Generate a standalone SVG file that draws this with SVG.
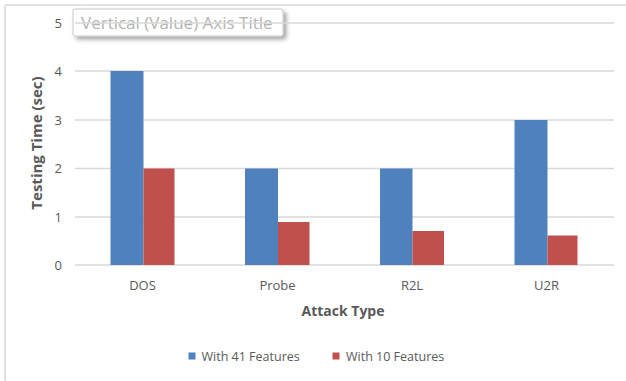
<svg xmlns="http://www.w3.org/2000/svg" width="626" height="381" viewBox="0 0 626 381">
<defs>
<style>
.grid{stroke:#d9d9d9;stroke-width:1.5}
.tick{font-family:"Open Sans","Noto Sans",sans-serif;font-size:13px;fill:#595959}
.cat{font-family:"Open Sans","Noto Sans",sans-serif;font-size:13px;fill:#595959;text-anchor:middle}
.ttl{font-family:"Open Sans","Noto Sans",sans-serif;font-size:14px;font-weight:bold;fill:#595959;text-anchor:middle}
.leg{font-family:"Open Sans","Noto Sans",sans-serif;font-size:12.5px;fill:#595959}
.b{fill:#4f81bd}
.r{fill:#c0504d}
</style>
<filter id="sh" x="-10%" y="-30%" width="130%" height="180%">
<feDropShadow dx="3" dy="3" stdDeviation="2" flood-color="#000" flood-opacity="0.35"/>
</filter>
</defs>
<rect width="626" height="381" fill="#fff"/>
<g id="frame">
<line x1="5" y1="5" x2="626" y2="5" stroke="#d9d9d9" stroke-width="1.5"/>
<line x1="5" y1="5" x2="5" y2="381" stroke="#d9d9d9" stroke-width="1.5"/>
</g>
<g id="tooltip">
<rect x="73" y="9" width="210" height="27" rx="2" fill="#fff" stroke="#c8c8c8" filter="url(#sh)"/>
<text x="81" y="29" font-family="'Open Sans','Noto Sans',sans-serif" font-size="17px" fill="#b3b3b3">Vertical (Value) Axis Title</text>
</g>
<g id="gridlines">
<line class="grid" x1="75" y1="23" x2="614" y2="23"/>
<line class="grid" x1="75" y1="71" x2="614" y2="71"/>
<line class="grid" x1="75" y1="120" x2="614" y2="120"/>
<line class="grid" x1="75" y1="168.5" x2="614" y2="168.5"/>
<line class="grid" x1="75" y1="217" x2="614" y2="217"/>
<line class="grid" x1="75" y1="265" x2="614" y2="265"/>
</g>
<g id="yticks" class="tick" text-anchor="end">
<text x="62" y="28">5</text>
<text x="62" y="76">4</text>
<text x="62" y="125">3</text>
<text x="62" y="173">2</text>
<text x="62" y="222">1</text>
<text x="62" y="270">0</text>
</g>
<g id="bars">
<rect id="dos41" class="b" x="110.5" y="71" width="33" height="194"/>
<rect id="dos10" class="r" x="143.5" y="168.5" width="31" height="96.5"/>
<rect id="probe41" class="b" x="245" y="168.5" width="33" height="96.5"/>
<rect id="probe10" class="r" x="278" y="222" width="31.5" height="43"/>
<rect id="r2l41" class="b" x="380" y="168.5" width="32.5" height="96.5"/>
<rect id="r2l10" class="r" x="412.5" y="231" width="31.5" height="34"/>
<rect id="u2r41" class="b" x="514.5" y="120" width="33" height="145"/>
<rect id="u2r10" class="r" x="547.5" y="235.5" width="30" height="29.5"/>
</g>
<g id="xlabels" class="cat">
<text x="142.5" y="290">DOS</text>
<text x="277.5" y="290">Probe</text>
<text x="412" y="290">R2L</text>
<text x="546.5" y="290">U2R</text>
</g>
<text id="xtitle" class="ttl" x="343" y="316">Attack Type</text>
<text id="ytitle" class="ttl" font-size="15px" style="font-size:15px" transform="translate(42,143) rotate(-90)">Testing Time (sec)</text>
<g id="legend">
<rect class="b" x="188.5" y="352.5" width="7" height="7"/>
<text class="leg" x="201.5" y="361">With 41 Features</text>
<rect class="r" x="332.5" y="352.5" width="7" height="7"/>
<text class="leg" x="346" y="361">With 10 Features</text>
</g>
</svg>
